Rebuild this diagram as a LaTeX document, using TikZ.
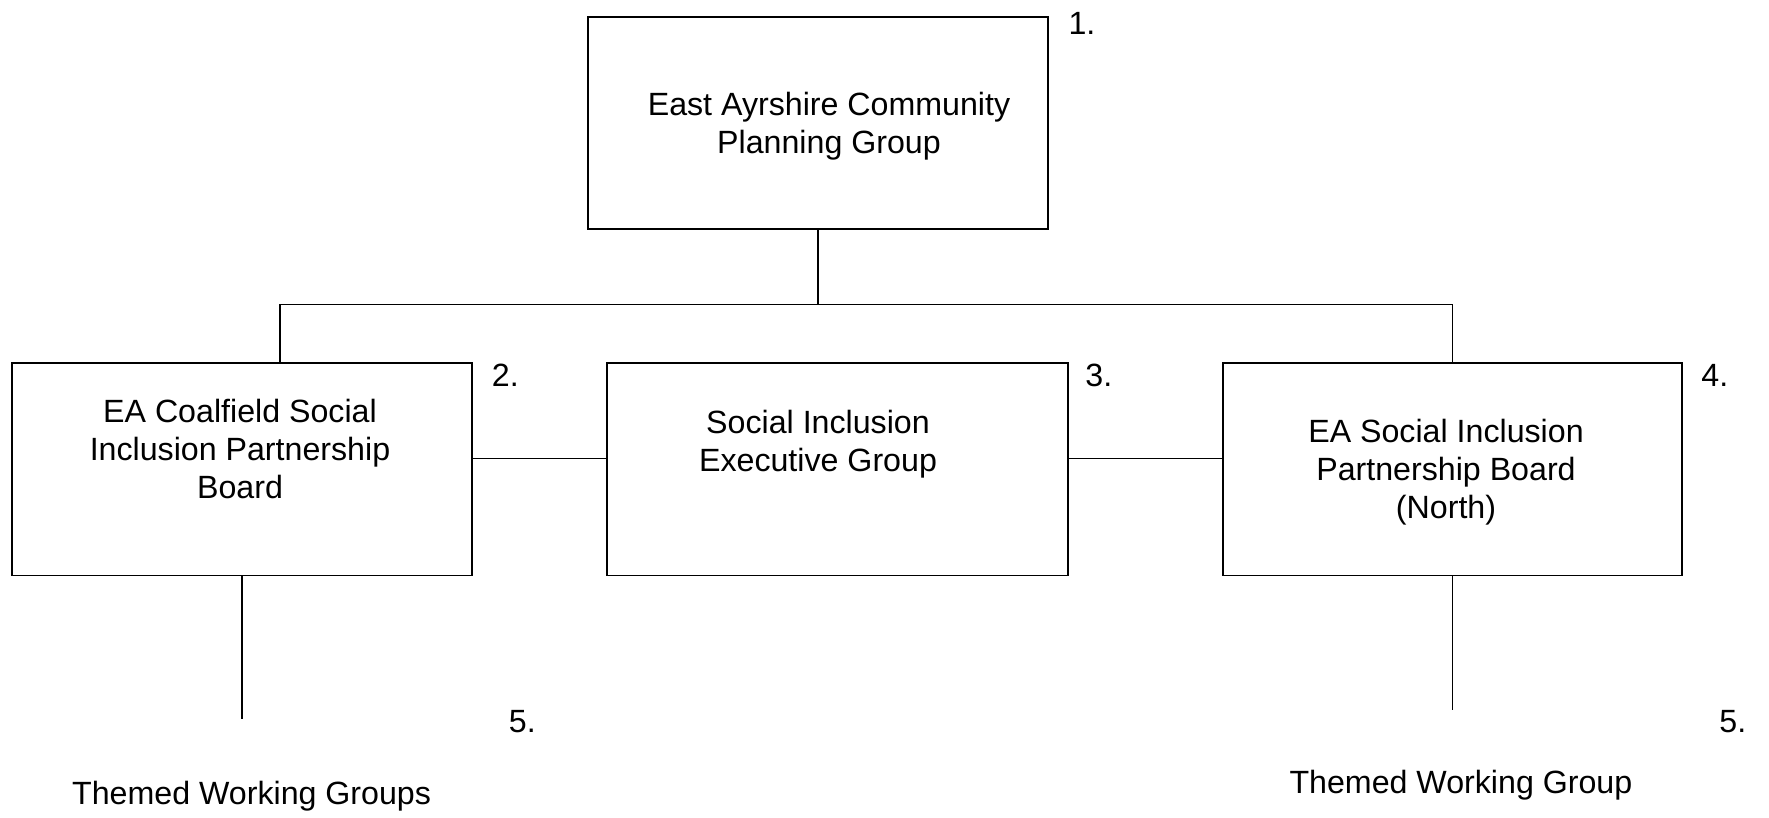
\documentclass[tikz,border=0pt]{standalone}
\usepackage{fontspec}
\setmainfont{Liberation Sans}
\usepackage{tikz}

\begin{document}
\begin{tikzpicture}[x=0.01cm,y=-0.01cm,
    box/.style={draw,minimum width=4.6cm,minimum height=2.12cm,inner sep=0pt},
    txt/.style={align=center,font=\fontsize{9.15}{10.8}\selectfont},
    every path/.style={line width=.5pt}]
      \useasboundingbox (0,0) rectangle (1769,817);
      % the four boxes
      \node[box] (cpg) at (818,123) {};
      \node[box,minimum width=4.59cm] (coal) at (242,469.4) {};
      \node[box,minimum width=4.61cm] (exec) at (837.7,469.4) {};
      \node[box,minimum width=4.59cm] (north) at (1452.5,469.4) {};
      % box texts
      \node[txt] (cpgtxt)   at (829,126)  {East Ayrshire Community\\Planning Group};
      \node[txt] (coaltxt)  at (240,449)  {EA Coalfield Social\\Inclusion Partnership\\Board};
      \node[txt] (exectxt)  at (818,444)  {Social Inclusion\\Executive Group};
      \node[txt] (northtxt) at (1446,472) {EA Social Inclusion\\Partnership Board\\(North)};
      % numbers
      \node[txt] (n1)  at (1082,23.7)  {1.};
      \node[txt] (n2)  at (505.4,375.7) {2.};
      \node[txt] (n3)  at (1098.9,375.7) {3.};
      \node[txt] (n4)  at (1714.9,375.7) {4.};
      \node[txt] (n5a) at (522.4,722)  {5.};
      \node[txt] (n5b) at (1732.9,722) {5.};
      % working groups
      \node[txt] (twgs) at (251.6,796.5) {Themed Working Groups};
      \node[txt] (twg)  at (1460.9,785.2) {Themed Working Group};
      % connectors
      \coordinate (barL) at (280,304.6);
      \coordinate (barR) at (1452.5,304.6);
      \draw (cpg.south) -- (cpg.south |- barL);
      \draw (coal.north -| barL) -- (barL) -- (barR) -- (north.north);
      \draw ([yshift=1.1mm]coal.east) -- ([yshift=1.1mm]exec.west);
      \draw ([yshift=1.1mm]exec.east) -- ([yshift=1.1mm]north.west);
      \coordinate (coalend) at (242,718.7);
      \coordinate (northend) at (1452.5,709.6);
      \draw (coal.south) -- (coalend);
      \draw (north.south) -- (northend);
\end{tikzpicture}
\end{document}
